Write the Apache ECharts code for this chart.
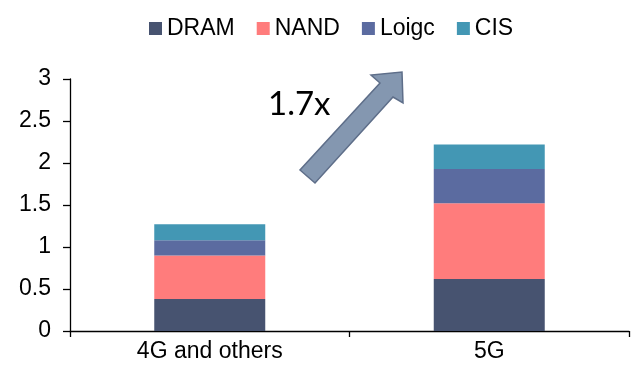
<!DOCTYPE html>
<html>
<head>
<meta charset="utf-8">
<script src="https://cdn.jsdelivr.net/npm/echarts@6/dist/echarts.min.js"></script>
<style>
  html, body { margin: 0; padding: 0; background: #fff; }
  #chart { width: 638px; height: 370px; }
</style>
</head>
<body>
<div id="chart"></div>
<script>
// Stacked chip content by handset generation
const categories = ['4G and others', '5G'];
const seriesNames = ['DRAM', 'NAND', 'Loigc', 'CIS'];
const dram = [0.38, 0.62];
const nand = [0.52, 0.90];
const logic = [0.18, 0.41];
const cis = [0.19, 0.29];
const colors = ['#475370', '#FF7C7C', '#5B6BA0', '#4397B4'];
const yTicks = { min: 0, max: 3, interval: 0.5 };
const growthLabel = '1.7x';

const values = [dram, nand, logic, cis];
const font = 'Liberation Sans, Arial, sans-serif';

const chart = echarts.init(document.getElementById('chart'), null, { renderer: 'canvas' });

chart.setOption({
  animation: false,
  color: colors,
  legend: {
    top: 12,
    left: 144,
    itemWidth: 13,
    itemHeight: 13,
    itemGap: 22,
    icon: 'rect',
    textStyle: { fontFamily: font, fontSize: 23, color: '#000' },
    data: seriesNames
  },
  grid: { left: 70, right: 9, top: 79, bottom: 39 },
  xAxis: {
    type: 'category',
    data: categories,
    axisLine: { lineStyle: { color: '#000', width: 1.3 } },
    axisTick: { show: true, length: 6, lineStyle: { color: '#000', width: 1.3 } },
    axisLabel: { fontFamily: font, fontSize: 23, color: '#000', margin: 9 }
  },
  yAxis: {
    type: 'value',
    min: yTicks.min,
    max: yTicks.max,
    interval: yTicks.interval,
    splitLine: { show: false },
    axisLine: { show: true, lineStyle: { color: '#000', width: 1.3 } },
    axisTick: { show: true, length: 7, lineStyle: { color: '#000', width: 1.3 } },
    axisLabel: { fontFamily: font, fontSize: 23, color: '#000', margin: 19 }
  },
  series: seriesNames.map((name, i) => ({
    name: name,
    type: 'bar',
    stack: 'total',
    barWidth: 111,
    data: values[i],
    itemStyle: { color: colors[i] }
  })),
  graphic: [
    {
      type: 'polygon',
      shape: {
        points: [
          [300, 170], [315, 183], [393, 97], [403, 103], [402, 72], [371, 75], [380, 83]
        ]
      },
      style: { fill: '#8497B0', stroke: '#5E6E89', lineWidth: 1.5 },
      z: 10
    },
    {
      type: 'text',
      style: {
        text: growthLabel,
        x: 268,
        y: 104,
        verticalAlign: 'middle',
        font: '33px Lato, "Open Sans", sans-serif',
        fill: '#000'
      },
      z: 10
    }
  ]
});
</script>
</body>
</html>
